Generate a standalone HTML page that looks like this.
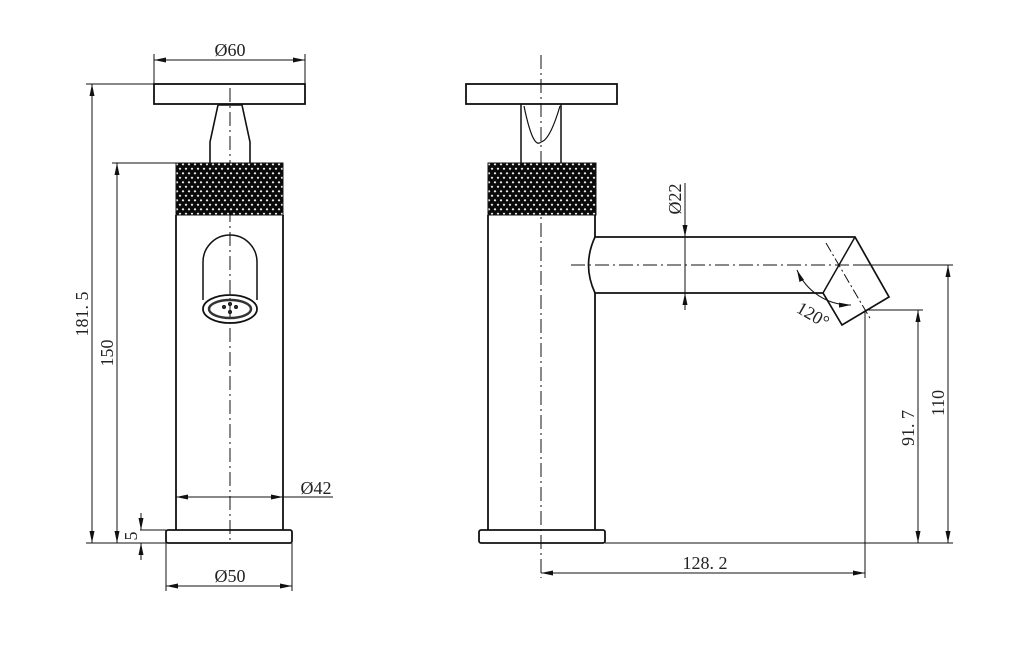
<!DOCTYPE html>
<html><head><meta charset="utf-8"><style>
html,body{margin:0;padding:0;background:#fff;}
svg{display:block;}
text{font-family:"Liberation Serif",serif;font-size:18px;fill:#222;}
</style></head><body>
<svg width="1022" height="661" viewBox="0 0 1022 661" xmlns="http://www.w3.org/2000/svg">
<defs>
<pattern id="kn" x="0" y="0" width="6" height="9" patternUnits="userSpaceOnUse">
<rect width="6" height="9" fill="#0a0a0a"/>
<path d="M3 1 L4.3 2.3 L3 3.6 L1.7 2.3Z M0 5.5 L1.3 6.8 L0 8.1 L-1.3 6.8Z M6 5.5 L7.3 6.8 L6 8.1 L4.7 6.8Z" fill="#fff"/>
</pattern>
<marker id="a" viewBox="0 0 12 6" refX="12" refY="3" markerWidth="12" markerHeight="6" orient="auto-start-reverse" markerUnits="userSpaceOnUse"><path d="M0 0.5 L12 3 L0 5.5Z" fill="#111"/></marker>
</defs>
<g fill="none" stroke="#111" stroke-width="1">
<!-- LEFT VIEW -->
<line x1="230" y1="88" x2="230" y2="543" stroke-dasharray="14,4,2,4"/>
<rect x="154" y="84" width="151" height="20" stroke-width="1.8"/>
<path d="M218 105 L242 105 L250 142 L250 163 M218 105 L210 142 L210 163" stroke-width="1.6"/>
<rect x="176" y="163" width="107" height="52" fill="url(#kn)" stroke="#111"/>
<path d="M176 215 L176 530 M283 215 L283 530" stroke-width="1.8"/>
<path d="M203 300 L203 262 A27 27 0 0 1 257 262 L257 300" stroke-width="1.5"/>
<ellipse cx="230" cy="309" rx="27" ry="14" stroke-width="1.8"/>
<ellipse cx="230" cy="309" rx="21" ry="9" stroke-width="2.5" stroke="#333"/>
<circle cx="224" cy="307" r="1.5" fill="#333"/><circle cx="236" cy="307" r="1.5" fill="#333"/><circle cx="230" cy="312" r="1.5" fill="#333"/><circle cx="230" cy="304" r="1.5" fill="#333"/>
<rect x="166" y="530" width="126" height="13" rx="2" stroke-width="1.8"/>
<!-- dims left -->
<line x1="154" y1="54" x2="154" y2="84"/><line x1="305" y1="54" x2="305" y2="84"/>
<line x1="154" y1="60" x2="305" y2="60" marker-start="url(#a)" marker-end="url(#a)"/>
<line x1="86" y1="84" x2="154" y2="84"/>
<line x1="92" y1="84" x2="92" y2="543" marker-start="url(#a)" marker-end="url(#a)"/>
<line x1="112" y1="163" x2="176" y2="163"/>
<line x1="117" y1="163" x2="117" y2="543" marker-start="url(#a)" marker-end="url(#a)"/>
<line x1="86" y1="543" x2="166" y2="543"/>
<line x1="140" y1="530" x2="166" y2="530"/>
<line x1="141" y1="513" x2="141" y2="530" marker-end="url(#a)"/>
<line x1="141" y1="560" x2="141" y2="543" marker-end="url(#a)"/>
<line x1="176" y1="497" x2="333" y2="497"/>
<line x1="176" y1="497" x2="283" y2="497" marker-start="url(#a)" marker-end="url(#a)"/>
<line x1="166" y1="543" x2="166" y2="591"/><line x1="292" y1="543" x2="292" y2="591"/>
<line x1="166" y1="586" x2="292" y2="586" marker-start="url(#a)" marker-end="url(#a)"/>
<!-- RIGHT VIEW -->
<line x1="541" y1="55" x2="541" y2="578" stroke-dasharray="14,4,2,4"/>
<rect x="466" y="84" width="151" height="20" stroke-width="1.8"/>
<path d="M521 104 L521 163 M561 104 L561 163" stroke-width="1.5"/>
<path d="M524 106 Q533 150 541 142 Q550 140 560 106" stroke-width="1.2"/>
<rect x="488" y="163" width="108" height="52" fill="url(#kn)"/>
<path d="M488 215 L488 530 M595 215 L595 237 M595 293 L595 530" stroke-width="1.8"/>
<path d="M595 237 L855 237 L889 297 L842 325 L823 293 L595 293 Q582 265 595 237" stroke-width="1.7"/>
<line x1="855" y1="237" x2="823" y2="293" stroke-width="1.5"/>
<line x1="571" y1="265" x2="953" y2="265" stroke-dasharray="14,4,2,4"/>
<line x1="826" y1="243" x2="871" y2="320" stroke-dasharray="10,3,2,3"/>
<!-- 22 -->
<line x1="685" y1="183" x2="685" y2="237" marker-end="url(#a)"/>
<line x1="685" y1="310" x2="685" y2="293" marker-end="url(#a)"/>
<line x1="685" y1="237" x2="685" y2="293"/>
<!-- 120 arc -->
<path d="M797 270 A58 58 0 0 0 851 305" marker-start="url(#a)" marker-end="url(#a)"/>
<!-- right dims -->
<line x1="855" y1="265" x2="953" y2="265"/>
<line x1="948" y1="265" x2="948" y2="543" marker-start="url(#a)" marker-end="url(#a)"/>
<line x1="865" y1="310" x2="923" y2="310"/>
<line x1="918" y1="310" x2="918" y2="543" marker-start="url(#a)" marker-end="url(#a)"/>
<line x1="865" y1="310" x2="865" y2="578"/>
<rect x="479" y="530" width="126" height="13" rx="2" stroke-width="1.8"/>
<line x1="605" y1="543" x2="953" y2="543"/>
<line x1="541" y1="573" x2="865" y2="573" marker-start="url(#a)" marker-end="url(#a)"/>
</g>
<text x="230" y="56" text-anchor="middle">Ø60</text>
<text x="316" y="494" text-anchor="middle">Ø42</text>
<text x="230" y="582" text-anchor="middle">Ø50</text>
<text x="705" y="569" text-anchor="middle">128. 2</text>
<text transform="translate(88,314) rotate(-90)" text-anchor="middle">181. 5</text>
<text transform="translate(113,353) rotate(-90)" text-anchor="middle">150</text>
<text transform="translate(137,536) rotate(-90)" text-anchor="middle" font-size="15">5</text>
<text transform="translate(681,199) rotate(-90)" text-anchor="middle">Ø22</text>
<text transform="translate(914,428) rotate(-90)" text-anchor="middle">91. 7</text>
<text transform="translate(944,403) rotate(-90)" text-anchor="middle">110</text>
<text transform="translate(810,320) rotate(30)" text-anchor="middle">120°</text>
</svg>
</body></html>
